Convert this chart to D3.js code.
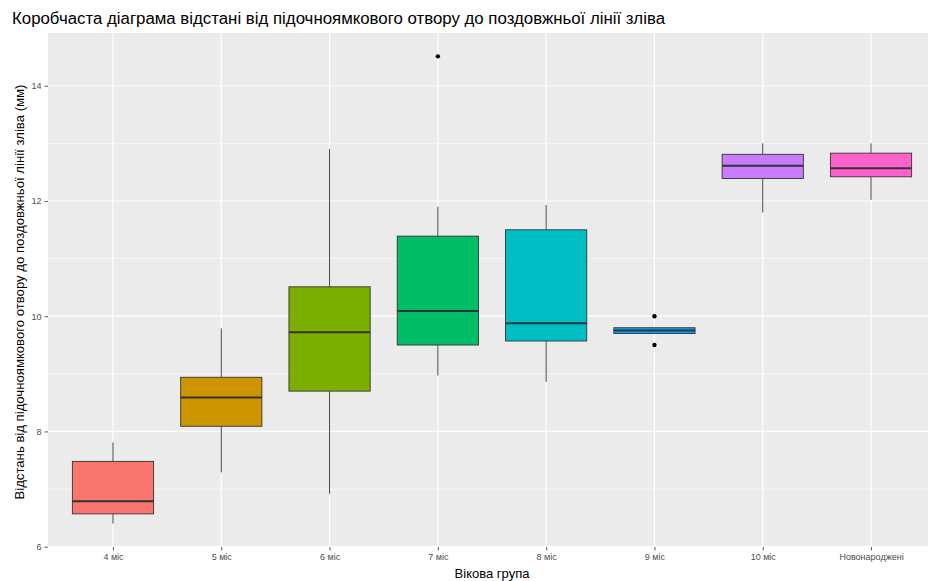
<!DOCTYPE html>
<html>
<head>
<meta charset="utf-8">
<script src="https://cdn.jsdelivr.net/npm/d3@7"></script>
<style>
  html, body { margin: 0; padding: 0; background: #fff; }
  svg { display: block; font-family: "Liberation Sans", Arial, sans-serif; }
</style>
</head>
<body>
<svg id="chart" width="928" height="581"></svg>
<script>
// ---- data ----
const categories = ["4 міс", "5 міс", "6 міс", "7 міс", "8 міс", "9 міс", "10 міс", "Новонароджені"];
const whiskerLow  = [6.40, 7.29, 6.92, 8.97, 8.86, 9.70, 11.80, 12.02];
const q1          = [6.57, 8.09, 8.70, 9.50, 9.57, 9.70, 12.39, 12.42];
const median      = [6.79, 8.59, 9.72, 10.09, 9.88, 9.75, 12.61, 12.57];
const q3          = [7.48, 8.94, 10.51, 11.39, 11.50, 9.80, 12.81, 12.83];
const whiskerHigh = [7.81, 9.79, 12.90, 11.90, 11.93, 9.80, 13.00, 13.00];
const outlierCategory = ["7 міс", "9 міс", "9 міс"];
const outlierValue    = [14.51, 10.00, 9.50];
const yTicks = [6, 8, 10, 12, 14];
const yMinorTicks = [7, 9, 11, 13];
const fills = ["#F8766D", "#CD9600", "#7CAE00", "#00BE67", "#00BFC4", "#00A9FF", "#C77CFF", "#FF61CC"];
const titleText = "Коробчаста діаграма відстані від підочноямкового отвору до поздовжньої лінії зліва";
const xTitle = "Вікова група";
const yTitle = "Відстань від підочноямкового отвору до поздовжньої лінії зліва (мм)";

// ---- layout ----
const svg = d3.select("#chart");
const panel = { left: 48, right: 936, top: 33, bottom: 547 };

const allVals = whiskerLow.concat(whiskerHigh, outlierValue);
const lo = d3.min(allVals), hi = d3.max(allVals);
const pad = (hi - lo) * 0.05;
const y = d3.scaleLinear().domain([lo - pad, hi + pad]).range([panel.bottom, panel.top]);
const x = d3.scalePoint().domain(categories).range([panel.left, panel.right]).padding(0.6);
const boxW = x.step() * 0.75;

// panel background
svg.append("rect")
  .attr("x", panel.left).attr("y", panel.top)
  .attr("width", panel.right - panel.left).attr("height", panel.bottom - panel.top)
  .attr("fill", "#EBEBEB");

// grid
const grid = svg.append("g");
grid.selectAll("line.minor").data(yMinorTicks).join("line")
  .attr("x1", panel.left).attr("x2", panel.right)
  .attr("y1", d => y(d)).attr("y2", d => y(d))
  .attr("stroke", "#fff").attr("stroke-width", 0.6);
grid.selectAll("line.majy").data(yTicks).join("line")
  .attr("x1", panel.left).attr("x2", panel.right)
  .attr("y1", d => y(d)).attr("y2", d => y(d))
  .attr("stroke", "#fff").attr("stroke-width", 1.2);
grid.selectAll("line.majx").data(categories).join("line")
  .attr("y1", panel.top).attr("y2", panel.bottom)
  .attr("x1", d => x(d)).attr("x2", d => x(d))
  .attr("stroke", "#fff").attr("stroke-width", 1.2);

// axes
const yAxis = svg.append("g")
  .attr("transform", `translate(${panel.left},0)`)
  .call(d3.axisLeft(y).tickValues(yTicks).tickSize(3.5).tickPadding(3).tickFormat(d3.format("d")));
const xAxis = svg.append("g")
  .attr("transform", `translate(0,${panel.bottom})`)
  .call(d3.axisBottom(x).tickSize(3.5).tickPadding(3));
[yAxis, xAxis].forEach(a => {
  a.select(".domain").remove();
  a.selectAll(".tick line").attr("stroke", "#333333").attr("stroke-width", 0.8);
  a.selectAll(".tick text").attr("fill", "#4D4D4D").attr("font-size", 9)
    .attr("font-family", "Liberation Sans, Arial, sans-serif");
});

// boxplots
const boxes = svg.append("g").selectAll("g").data(categories).join("g")
  .attr("transform", d => `translate(${x(d)},0)`);
boxes.append("line")
  .attr("x1", 0).attr("x2", 0)
  .attr("y1", (d, i) => y(whiskerHigh[i])).attr("y2", (d, i) => y(q3[i]))
  .attr("stroke", "#333333").attr("stroke-width", 0.9);
boxes.append("line")
  .attr("x1", 0).attr("x2", 0)
  .attr("y1", (d, i) => y(q1[i])).attr("y2", (d, i) => y(whiskerLow[i]))
  .attr("stroke", "#333333").attr("stroke-width", 0.9);
boxes.append("rect")
  .attr("x", -boxW / 2).attr("width", boxW)
  .attr("y", (d, i) => y(q3[i])).attr("height", (d, i) => y(q1[i]) - y(q3[i]))
  .attr("fill", (d, i) => fills[i])
  .attr("stroke", "#333333").attr("stroke-width", 0.9);
boxes.append("line")
  .attr("x1", -boxW / 2).attr("x2", boxW / 2)
  .attr("y1", (d, i) => y(median[i])).attr("y2", (d, i) => y(median[i]))
  .attr("stroke", "#333333").attr("stroke-width", 2);

// outliers
svg.append("g").selectAll("circle").data(outlierValue).join("circle")
  .attr("cx", (d, i) => x(outlierCategory[i]))
  .attr("cy", d => y(d))
  .attr("r", 2.2)
  .attr("fill", "#000");

// titles
svg.append("text")
  .attr("x", 12).attr("y", 24)
  .attr("font-size", 16).attr("fill", "#000")
  .attr("textLength", 653).attr("lengthAdjust", "spacingAndGlyphs")
  .text(titleText);
svg.append("text")
  .attr("x", 492).attr("y", 578)
  .attr("text-anchor", "middle")
  .attr("font-size", 13).attr("fill", "#000")
  .text(xTitle);
svg.append("text")
  .attr("transform", `translate(24,292) rotate(-90)`)
  .attr("text-anchor", "middle")
  .attr("font-size", 12.5).attr("fill", "#000")
  .attr("textLength", 415).attr("lengthAdjust", "spacingAndGlyphs")
  .text(yTitle);
</script>
</body>
</html>
